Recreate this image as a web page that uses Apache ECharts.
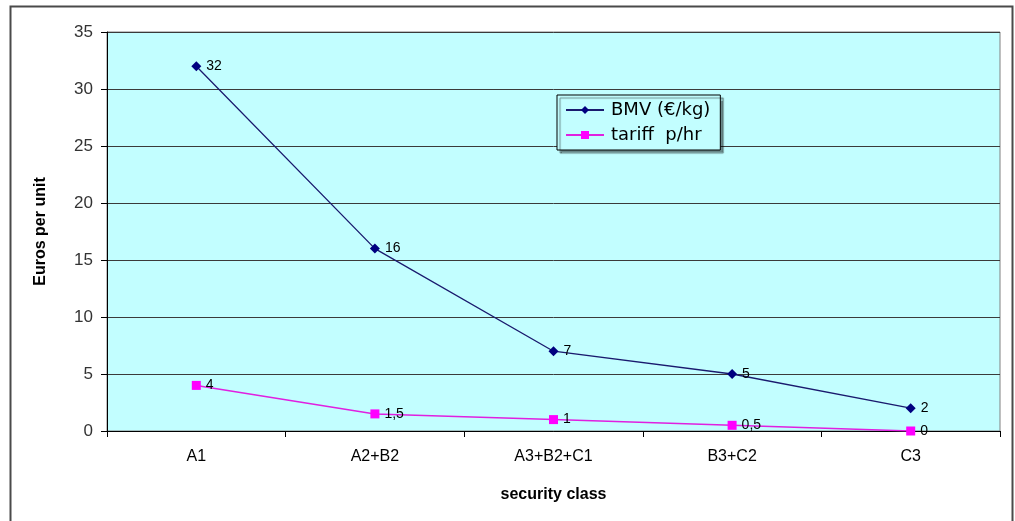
<!DOCTYPE html>
<html><head><meta charset="utf-8">
<script src="https://cdn.jsdelivr.net/npm/echarts@6/dist/echarts.min.js"></script>
<style>html,body{margin:0;padding:0;background:#fff}#c{width:1015px;height:521px}</style>
</head><body><div id="c"></div>
<script>
const categories = ['A1', 'A2+B2', 'A3+B2+C1', 'B3+C2', 'C3'];
const bmvValues = [32, 16, 7, 5, 2];
const tariffValues = [4, 1.5, 1, 0.5, 0];
const seriesNames = ['BMV (€/kg)', 'tariff  p/hr'];
const yTicks = { min: 0, max: 35, interval: 5 };

const font = 'Arial, "Liberation Sans", sans-serif';
const chart = echarts.init(document.getElementById('c'));
const labelFmt = p => String(p.value).replace('.', ',');
chart.setOption({
  animation: false,
  backgroundColor: '#ffffff',
  graphic: [{
    type: 'rect', left: 8, top: 4, z: 0,
    shape: { width: 1002, height: 530 },
    style: { fill: 'none', stroke: '#4a4a4a', lineWidth: 2 }
  }],
  grid: {
    left: 107, right: 15, top: 32, bottom: 90,
    show: true, backgroundColor: '#C2FEFF', borderColor: '#808080', borderWidth: 1
  },
  legend: {
    left: 557, top: 95, orient: 'vertical',
    itemWidth: 38, itemHeight: 10, itemGap: 7,
    padding: [6, 10, 6, 8],
    backgroundColor: '#C2FEFF', borderColor: '#000', borderWidth: 1,
    shadowColor: 'rgba(0,0,0,0.45)', shadowOffsetX: 3, shadowOffsetY: 3, shadowBlur: 1,
    textStyle: { fontFamily: '"DejaVu Sans", sans-serif', fontSize: 18, color: '#000', padding: [0, 0, 0, 2] },
    data: seriesNames
  },
  xAxis: {
    type: 'category', data: categories, boundaryGap: true,
    name: 'security class', nameLocation: 'middle', nameGap: 56,
    nameTextStyle: { fontFamily: font, fontSize: 16, fontWeight: 'bold', color: '#000' },
    axisLine: { lineStyle: { color: '#000', width: 1 } },
    axisTick: { show: true, length: 6, lineStyle: { color: '#000' } },
    axisLabel: { fontFamily: font, fontSize: 16, color: '#000', margin: 18 }
  },
  yAxis: {
    type: 'value', min: yTicks.min, max: yTicks.max, interval: yTicks.interval,
    name: 'Euros per unit', nameLocation: 'middle', nameGap: 58, nameRotate: 90,
    nameTextStyle: { fontFamily: font, fontSize: 16, fontWeight: 'bold', color: '#000' },
    axisLine: { show: true, lineStyle: { color: '#000', width: 1 } },
    axisTick: { show: true, length: 6, lineStyle: { color: '#000' } },
    axisLabel: { fontFamily: font, fontSize: 17, color: '#333', margin: 14 },
    splitLine: { show: true, lineStyle: { color: '#3a3a3a', width: 1 } }
  },
  series: [
    {
      name: seriesNames[0], type: 'line', data: bmvValues,
      symbol: 'diamond', symbolSize: 10,
      lineStyle: { color: '#1a1a6e', width: 1.3 },
      itemStyle: { color: '#000080' },
      label: { show: true, position: 'right', distance: 5, fontFamily: font, fontSize: 14, color: '#000', formatter: labelFmt }
    },
    {
      name: seriesNames[1], type: 'line', data: tariffValues,
      symbol: 'rect', symbolSize: 9,
      lineStyle: { color: '#E020E0', width: 1.5 },
      itemStyle: { color: '#FF00FF' },
      label: { show: true, position: 'right', distance: 5, fontFamily: font, fontSize: 14, color: '#000', formatter: labelFmt }
    }
  ]
});
</script></body></html>
